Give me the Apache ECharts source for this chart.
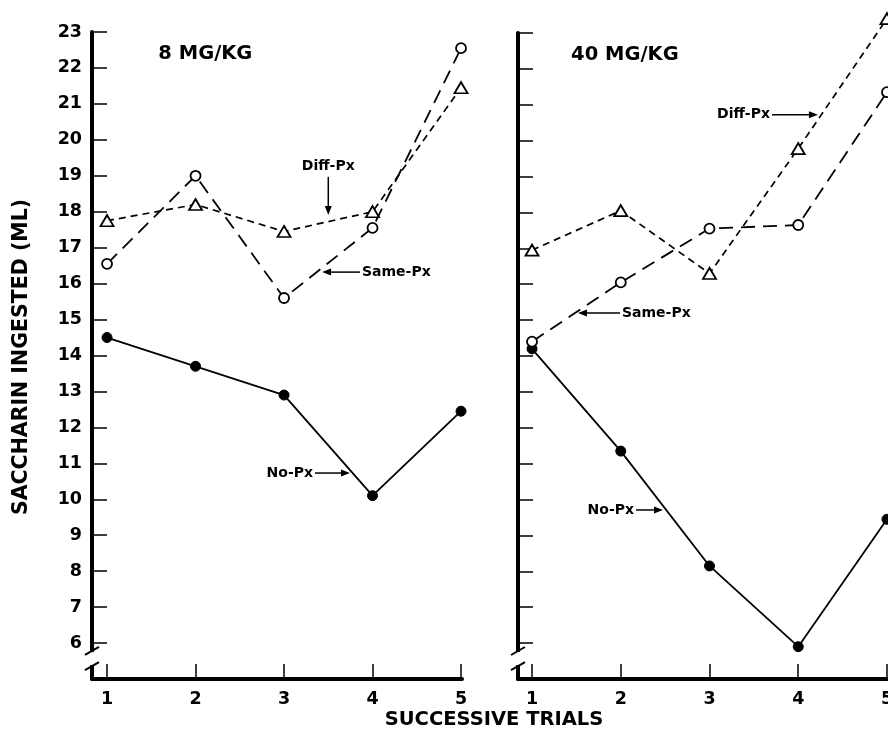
<!DOCTYPE html>
<html><head><meta charset="utf-8">
<script src="https://cdn.jsdelivr.net/npm/echarts@6/dist/echarts.min.js"></script>
<style>html,body{margin:0;padding:0;background:#fff}#c{width:888px;height:744px}</style>
</head><body><div id="c"></div>
<script>
// ---- data ----
const trials = [1, 2, 3, 4, 5];
const yTicks = [6,7,8,9,10,11,12,13,14,15,16,17,18,19,20,21,22,23];
const panelTitles = ['8 MG/KG', '40 MG/KG'];
const noPx8    = [14.5, 13.7, 12.9, 10.1, 12.45];
const samePx8  = [16.55, 19.0, 15.6, 17.55, 22.55];
const diffPx8  = [17.75, 18.2, 17.45, 18.0, 21.45];
const noPx40   = [14.2, 11.35, 8.15, 5.9, 9.45];
const samePx40 = [14.4, 16.05, 17.55, 17.65, 21.35];
const diffPx40 = [16.95, 18.05, 16.3, 19.78, 23.4];
const xTitle = 'SUCCESSIVE TRIALS';
const yTitle = 'SACCHARIN INGESTED (ML)';
// annotations: [panel, text, tail x, tail y, tip x, tip y] in data units
const notes = [
  [0, 'Diff-Px', 3.5, 18.97, 3.5, 17.91],
  [0, 'Same-Px', 3.858, 16.32, 3.43, 16.32],
  [0, 'No-Px', 3.35, 10.73, 3.745, 10.73],
  [1, 'Diff-Px', 3.704, 20.72, 4.222, 20.72],
  [1, 'Same-Px', 1.991, 15.2, 1.518, 15.2],
  [1, 'No-Px', 2.172, 9.71, 2.476, 9.71]
];

const FONT = '"DejaVu Sans", sans-serif';
const xMins = [0.83, 0.842];
const xMaxs = [5.011, 5.034];

function pairs(v){ return trials.map((t,i)=>[t, v[i]]); }

const chart = echarts.init(document.getElementById('c'), null, {renderer:'canvas'});

function xAxisCfg(i){
  return {
    type:'value', gridIndex:i, min:xMins[i], max:xMaxs[i],
    axisLine:{show:true, onZero:false, lineStyle:{color:'#000', width:4}},
    axisTick:{show:true, inside:true, length:15, customValues:trials, lineStyle:{color:'#000', width:1.5}},
    axisLabel:{show:true, customValues:trials, margin:11, color:'#000', fontFamily:FONT, fontWeight:'bold', fontSize:17.5},
    splitLine:{show:false}
  };
}
function yAxisCfg(i){
  return {
    type:'value', gridIndex:i, min:5, max:23,
    axisLine:{show:true, onZero:false, lineStyle:{color:'#000', width:4}},
    axisTick:{show:true, inside:true, length:15, customValues:yTicks, lineStyle:{color:'#000', width:1.5}},
    axisLabel:{show:i===0, customValues:yTicks, margin:10, color:'#000', fontFamily:FONT, fontWeight:'bold', fontSize:17.5},
    splitLine:{show:false}
  };
}
function line(name, data, i, kind){
  const base = {name, type:'line', xAxisIndex:i, yAxisIndex:i, data:pairs(data), clip:false, z:5,
    symbolSize:10, showSymbol:true, animation:false};
  if (kind==='no') {
    base.symbol='circle';
    base.itemStyle={color:'#000', borderColor:'#000', borderWidth:1};
    base.lineStyle={color:'#000', width:1.8, type:'solid'};
  } else if (kind==='same') {
    base.symbol='circle';
    base.symbolSize=10;
    base.itemStyle={color:'#fff', borderColor:'#000', borderWidth:1.8};
    base.lineStyle={color:'#000', width:1.8, type:[14,8]};
  } else {
    base.symbol='triangle';
    base.symbolSize=[13,11];
    base.itemStyle={color:'#fff', borderColor:'#000', borderWidth:1.8};
    base.lineStyle={color:'#000', width:1.7, type:[7,5]};
  }
  return base;
}

chart.setOption({
  backgroundColor:'#fff',
  animation:false,
  grid:[
    {left:92, top:32, width:370, height:647, outerBoundsMode:'none', containLabel:false},
    {left:518, top:33, width:372, height:646, outerBoundsMode:'none', containLabel:false}
  ],
  xAxis:[xAxisCfg(0), xAxisCfg(1)],
  yAxis:[yAxisCfg(0), yAxisCfg(1)],
  series:[
    line('No-Px', noPx8, 0, 'no'),
    line('Same-Px', samePx8, 0, 'same'),
    line('Diff-Px', diffPx8, 0, 'diff'),
    line('No-Px', noPx40, 1, 'no'),
    line('Same-Px', samePx40, 1, 'same'),
    line('Diff-Px', diffPx40, 1, 'diff')
  ]
});

function px(i, x, y){ return chart.convertToPixel({xAxisIndex:i, yAxisIndex:i}, [x, y]); }

const g = [];
const txt = (x,y,t,size,align,valign,extra)=>Object.assign({
  type:'text', x, y, z:20,
  style:{text:t, fill:'#000', font:'bold '+size+'px '+FONT, textAlign:align, textVerticalAlign:valign}
}, extra||{});

// panel titles
[0,1].forEach(i=>{
  const p = px(i, i===0 ? 1.58 : 1.44, 22.4);
  g.push(txt(p[0], p[1], panelTitles[i], 19.5, 'left', 'middle'));
});
// axis titles
g.push(txt(494, 720, xTitle, 19.5, 'center', 'middle'));
g.push({type:'text', x:22, y:357, rotation:Math.PI/2, z:20,
  style:{text:yTitle, fill:'#000', font:'bold 20.5px '+FONT, textAlign:'center', textVerticalAlign:'middle'}});

// axis breaks
[0,1].forEach(i=>{
  const a = px(i, xMins[i], 5.78), b = px(i, xMins[i], 5.36);
  g.push({type:'rect', z:15, shape:{x:a[0]-4, y:a[1]+1, width:8, height:b[1]-a[1]-2}, style:{fill:'#fff'}});
  [a,b].forEach(p=>{
    g.push({type:'line', z:16, shape:{x1:p[0]-7, y1:p[1]+4, x2:p[0]+7, y2:p[1]-4}, style:{stroke:'#000', lineWidth:2}});
  });
});

// annotations with arrows
notes.forEach(n=>{
  const [i, t, tx, ty, hx, hy] = n;
  const tail = px(i, tx, ty), tip = px(i, hx, hy);
  const dx = tip[0]-tail[0], dy = tip[1]-tail[1];
  const len = Math.hypot(dx, dy), ux = dx/len, uy = dy/len;
  const hl = 9, hw = 3.5;
  const bx = tip[0]-ux*hl, by = tip[1]-uy*hl;
  g.push({type:'line', z:12, shape:{x1:tail[0], y1:tail[1], x2:bx, y2:by}, style:{stroke:'#000', lineWidth:1.5}});
  g.push({type:'polygon', z:12, shape:{points:[[tip[0],tip[1]],[bx-uy*hw, by+ux*hw],[bx+uy*hw, by-ux*hw]]}, style:{fill:'#000'}});
  if (Math.abs(dy) > Math.abs(dx)) {
    g.push(txt(tail[0], tail[1]-3, t, 14, 'center', 'bottom'));
  } else if (dx < 0) {
    g.push(txt(tail[0]+2, tail[1], t, 14, 'left', 'middle'));
  } else {
    g.push(txt(tail[0]-2, tail[1], t, 14, 'right', 'middle'));
  }
});

chart.setOption({graphic:g});
</script>
</body></html>
